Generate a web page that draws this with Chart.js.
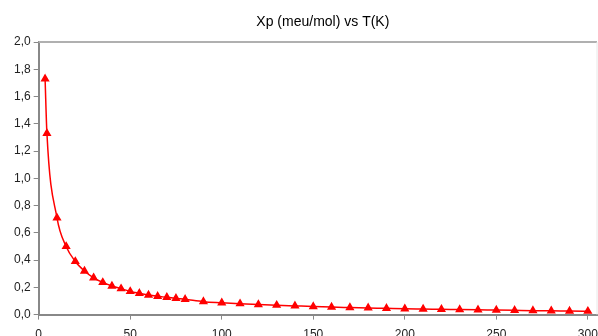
<!DOCTYPE html>
<html>
<head>
<meta charset="utf-8">
<script src="https://cdn.jsdelivr.net/npm/chart.js@4/dist/chart.umd.min.js"></script>
<style>
  html, body { margin: 0; padding: 0; background: #fff; overflow: hidden; }
  #wrap { width: 598px; height: 336px; overflow: hidden; position: relative; }
  #chart { position: absolute; left: 0; top: 0; }
</style>
</head>
<body>
<div id="wrap"><canvas id="chart" width="644" height="352"></canvas></div>
<script>
// data
const tempK = [3.5, 4.5, 10, 15, 20, 25, 30, 35, 40, 45, 50, 55, 60, 65, 70, 75, 80,
  90, 100, 110, 120, 130, 140, 150, 160, 170, 180, 190, 200,
  210, 220, 230, 240, 250, 260, 270, 280, 290, 300];
const xp = [1.73, 1.33, 0.71, 0.50, 0.39, 0.32, 0.27, 0.236, 0.21, 0.19, 0.17, 0.156, 0.143, 0.134, 0.127, 0.119, 0.112,
  0.095, 0.087, 0.080, 0.074, 0.069, 0.064, 0.059, 0.055, 0.052, 0.049, 0.046, 0.043,
  0.041, 0.039, 0.037, 0.035, 0.033, 0.031, 0.029, 0.028, 0.026, 0.025];
const xTicks = [0, 50, 100, 150, 200, 250, 300];
const chartTitle = 'Xp (meu/mol) vs T(K)';

const points = tempK.map((t, i) => ({ x: t, y: xp[i] }));
const FONT = 'Liberation Sans, Arial, sans-serif';

// frame round the plot area + title (the original title sits a bit right of centre)
const frame = {
  id: 'frame',
  afterDraw(chart) {
    const a = chart.chartArea;
    const c = chart.ctx;
    c.save();
    c.strokeStyle = '#b0b0b0';
    c.lineWidth = 2;
    c.beginPath();
    c.moveTo(a.left, a.top);
    c.lineTo(a.right, a.top);
    c.stroke();
    c.strokeStyle = '#e8e8e8';
    c.lineWidth = 1;
    c.beginPath();
    c.moveTo(a.right, a.top);
    c.lineTo(a.right, a.bottom);
    c.stroke();

    c.fillStyle = '#000';
    c.font = '14px ' + FONT;
    c.textAlign = 'center';
    c.textBaseline = 'middle';
    c.fillText(chartTitle, (a.left + a.right) / 2 + 5, 22);
    c.restore();
  }
};

new Chart(document.getElementById('chart'), {
  type: 'line',
  data: {
    datasets: [{
      data: points,
      borderColor: '#ff0000',
      backgroundColor: '#ff0000',
      borderWidth: 1.5,
      cubicInterpolationMode: 'monotone',
      pointStyle: 'triangle',
      pointRadius: 3.8,
      pointHoverRadius: 3.8,
      fill: false
    }]
  },
  options: {
    responsive: false,
    animation: false,
    layout: { padding: { left: 11, right: 47, top: 42, bottom: 2 } },
    plugins: {
      legend: { display: false },
      tooltip: { enabled: false },
      title: { display: false }
    },
    scales: {
      x: {
        type: 'linear',
        min: 0,
        max: 305,
        afterBuildTicks(scale) {
          scale.ticks = xTicks.map(v => ({ value: v }));
        },
        ticks: {
          autoSkip: false,
          color: '#222',
          padding: 8,
          maxRotation: 0,
          font: { family: FONT, size: 12 }
        },
        grid: { drawOnChartArea: false, tickLength: 5, color: '#888' },
        border: { color: '#888', width: 2 }
      },
      y: {
        min: 0,
        max: 2,
        ticks: {
          stepSize: 0.2,
          color: '#222',
          padding: 3,
          font: { family: FONT, size: 12 },
          callback: v => v.toFixed(1).replace('.', ',')
        },
        grid: { drawOnChartArea: false, tickLength: 5, color: '#888' },
        border: { color: '#888', width: 2 }
      }
    }
  },
  plugins: [frame]
});
</script>
</body>
</html>
